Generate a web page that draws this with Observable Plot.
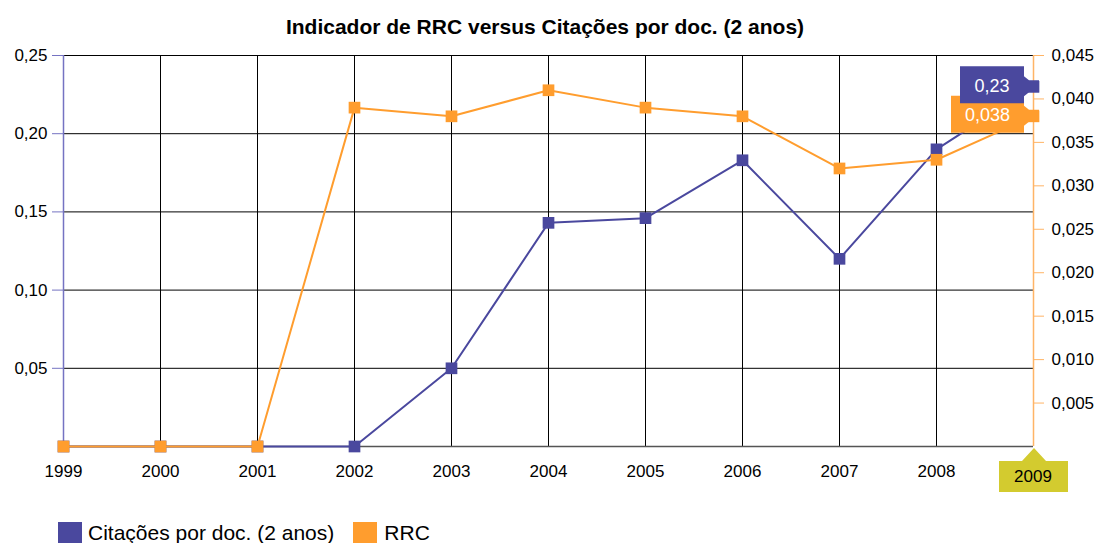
<!DOCTYPE html>
<html><head><meta charset="utf-8">
<script src="https://cdn.jsdelivr.net/npm/d3@7"></script>
<script src="https://cdn.jsdelivr.net/npm/@observablehq/plot@0.6"></script>
<style>
html,body{margin:0;padding:0;background:#fff;overflow:hidden;}
body{font-family:"Liberation Sans",Arial,Helvetica,sans-serif;width:1101px;height:543px;position:relative;}
#title{position:absolute;left:0;width:1090px;text-align:center;font-weight:bold;font-size:21px;line-height:22px;top:16px;color:#000;}
#chart{position:absolute;left:0;top:45px;}
#legend{position:absolute;left:58px;top:521px;display:flex;align-items:flex-start;font-size:21px;line-height:24px;color:#000;}
.sw{width:24px;height:22px;display:inline-block;margin-right:6px;margin-top:1px;}
.item{display:flex;align-items:flex-start;margin-right:19px;}
.item:nth-child(2) .sw{margin-right:7px;}
</style></head><body>
<div id="title">Indicador de RRC versus Citações por doc. (2 anos)</div>
<div id="chart"></div>
<div id="legend"></div>
<script>
const years = [1999, 2000, 2001, 2002, 2003, 2004, 2005, 2006, 2007, 2008, 2009];
const citacoes = [0, 0, 0, 0, 0.05, 0.143, 0.146, 0.183, 0.12, 0.19, 0.23];
const rrc = [0, 0, 0, 0.039, 0.038, 0.041, 0.039, 0.038, 0.032, 0.033, 0.038];
const leftTicks = [0.05, 0.10, 0.15, 0.20, 0.25];
const rightTicks = [0.005, 0.010, 0.015, 0.020, 0.025, 0.030, 0.035, 0.040, 0.045];
const leftMax = 0.25, rightMax = 0.045;
const seriesNames = ["Citações por doc. (2 anos)", "RRC"];

const blue = "#4a489e";
const blueAxis = "#7573c2";
const orange = "#ff9d2e";
const orangeAxis = "#ffb466";
const k = leftMax / rightMax;
const comma = (v, d) => v.toFixed(d).replace(".", ",");

const dataC = years.map((y, i) => ({year: y, v: citacoes[i]}));
const dataR = years.map((y, i) => ({year: y, v: rrc[i], s: rrc[i] * k}));
const last = years.length - 1;

const chart = Plot.plot({
  width: 1101,
  height: 470,
  marginTop: 10,
  marginBottom: 69,
  marginLeft: 63,
  marginRight: 68,
  style: {fontFamily: '"Liberation Sans", Arial, sans-serif', fontSize: "18px", background: "#fff"},
  x: {type: "linear", domain: [years[0], years[last]]},
  y: {domain: [0, leftMax]},
  marks: [
    Plot.gridX(years, {stroke: "#000", strokeOpacity: 1, strokeWidth: 1}),
    Plot.gridY(leftTicks, {stroke: "#000", strokeOpacity: 1, strokeWidth: 1}),
    Plot.ruleY([0], {stroke: "#555", strokeWidth: 1.5}),
    Plot.axisX(years.slice(0, last), {tickSize: 0, tickPadding: 18, tickFormat: d => String(d), label: null, fill: "#000", fontSize: 17}),
    Plot.axisY(leftTicks, {anchor: "left", tickSize: 11, tickPadding: 5, stroke: blueAxis, fill: "#000", tickFormat: d => comma(d, 2), label: null, fontSize: 17}),
    Plot.axisY(rightTicks.map(t => t * k), {anchor: "right", tickSize: 10, tickPadding: 8, stroke: orangeAxis, fill: "#000", tickFormat: d => comma(d / k, 3), label: null, fontSize: 17}),
    Plot.ruleX([years[0]], {stroke: blueAxis, strokeWidth: 1.5}),
    Plot.ruleX([years[last]], {stroke: orangeAxis, strokeWidth: 1.5}),
    Plot.line(dataC, {x: "year", y: "v", stroke: blue, strokeWidth: 2}),
    Plot.dot(dataC, {x: "year", y: "v", fill: blue, symbol: "square", r: 6.6}),
    Plot.line(dataR, {x: "year", y: "s", stroke: orange, strokeWidth: 2}),
    Plot.dot(dataR, {x: "year", y: "s", fill: orange, symbol: "square", r: 6.6})
  ]
});
document.getElementById("chart").appendChild(chart);

// hover-style annotations anchored through the plot's scales
const sx = chart.scale("x"), sy = chart.scale("y");
const px = sx.apply(years[last]);
const g = d3.select(chart).append("g").attr("font-family", '"Liberation Sans", Arial, sans-serif');
function tip(py, color, w, label) {
  const right = px - 9, left = right - w, top = py - 20, bottom = py + 17;
  g.append("path")
    .attr("d", `M${left},${top}H${right}V${py - 10}L${right + 5},${py - 6}H${px + 6}V${py + 6}H${right + 5}L${right},${py + 10}V${bottom}H${left}Z`)
    .attr("fill", color);
  g.append("text").attr("x", (left + right) / 2).attr("y", py - 1).attr("dy", "0.35em")
    .attr("text-anchor", "middle").attr("fill", "#fff").attr("font-size", 18).text(label);
}
tip(sy.apply(rrc[last] * k), orange, 73, comma(rrc[last], 3));
tip(sy.apply(citacoes[last]), blue, 64, comma(citacoes[last], 2));
const y0 = sy.apply(0);
g.append("path")
  .attr("d", `M${px - 34},${y0 + 15}H${px - 11}L${px + 1},${y0 + 2}L${px + 13},${y0 + 15}H${px + 35}V${y0 + 46}H${px - 34}Z`)
  .attr("fill", "#d3cb2f");
g.append("text").attr("x", px).attr("y", y0 + 30).attr("dy", "0.35em")
  .attr("text-anchor", "middle").attr("fill", "#000").attr("font-size", 17).text(String(years[last]));

// legend
const lg = document.getElementById("legend");
[[seriesNames[0], blue], [seriesNames[1], orange]].forEach(([n, c]) => {
  const it = document.createElement("div"); it.className = "item";
  const sw = document.createElement("span"); sw.className = "sw"; sw.style.background = c;
  const t = document.createElement("span"); t.textContent = n;
  it.appendChild(sw); it.appendChild(t); lg.appendChild(it);
});
</script>
</body></html>
